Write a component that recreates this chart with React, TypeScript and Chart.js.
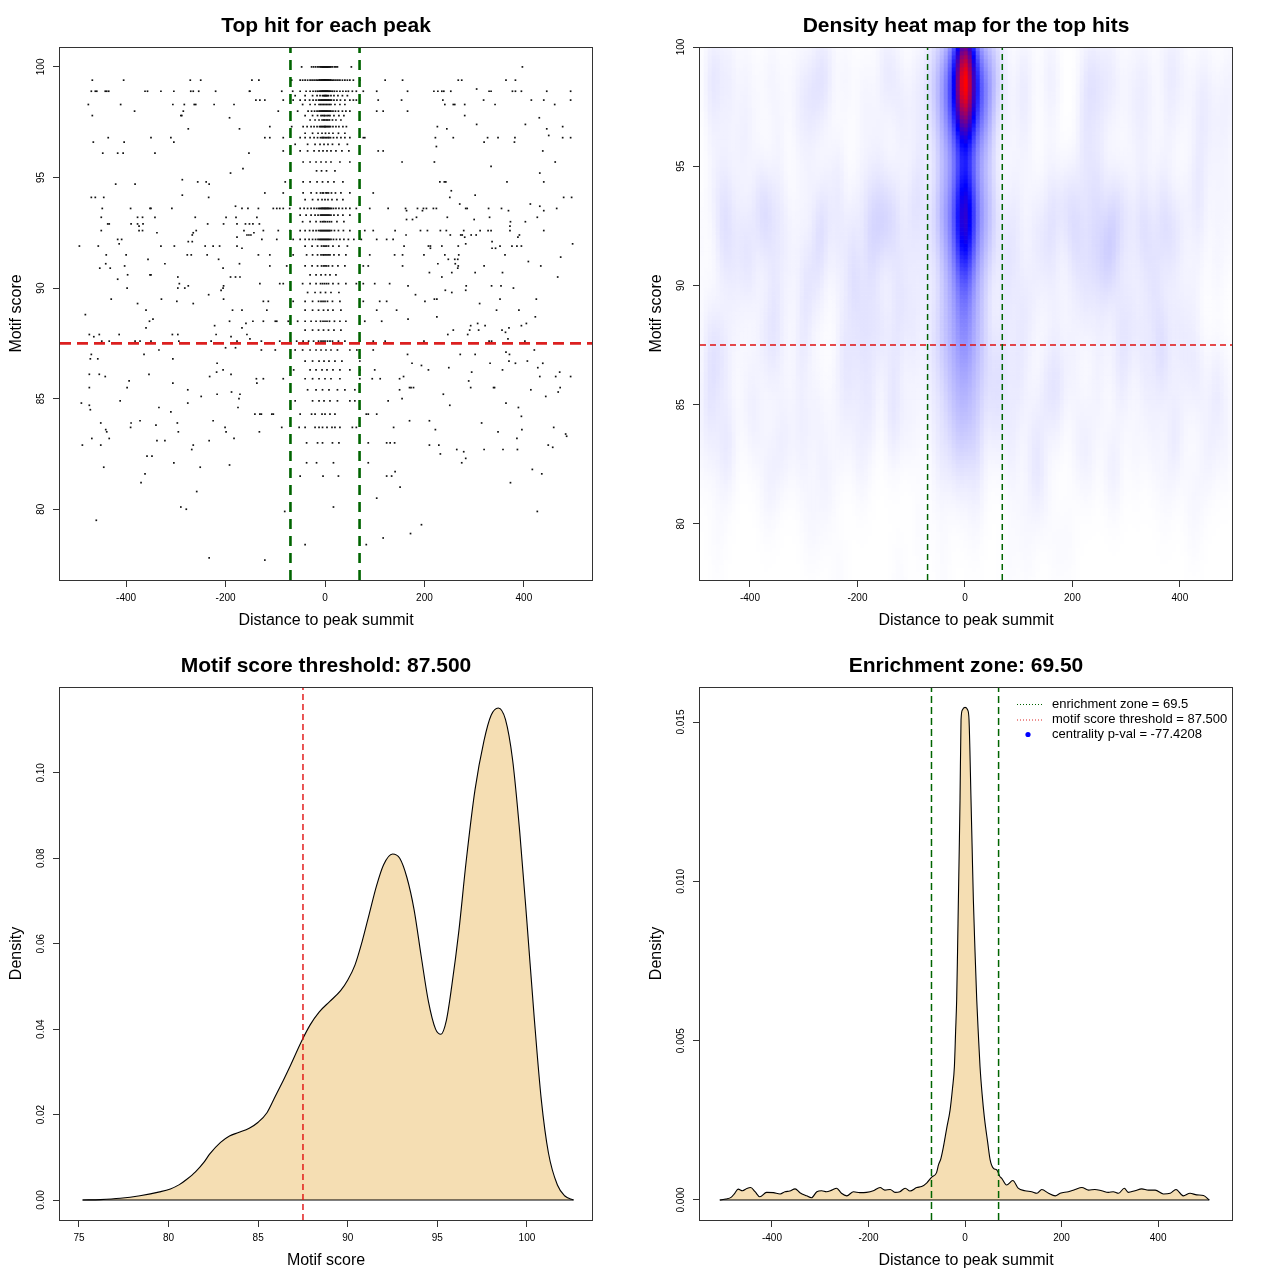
import React, { useEffect, useRef } from "react";
import { Chart, registerables } from "chart.js";

Chart.register(...registerables);

const FONT = '"Liberation Sans", Arial, Helvetica, sans-serif';
const WHEAT = "#F5DEB3";
const GREEN = "#006400";
const RED = "#DC2020";
const AXIS = "#333333";

// ---------------- data ----------------
const enrichmentZone = 69.5;
const scoreThreshold = 87.5;

const titles = [
  "Top hit for each peak",
  "Density heat map for the top hits",
  "Motif score threshold: 87.500",
  "Enrichment zone: 69.50",
];

const distanceTicks = [-400, -200, 0, 200, 400];
const scoreTicks = [80, 85, 90, 95, 100];
const motifScoreTicks = [75, 80, 85, 90, 95, 100];
const scoreDensityTicks = [0, 0.02, 0.04, 0.06, 0.08, 0.1];
const distDensityTicks = [0, 0.005, 0.01, 0.015];

const legendLabels = [
  "enrichment zone = 69.5",
  "motif score threshold = 87.500",
  "centrality p-val = -77.4208",
];

// Top hits: motif score rows and distances to peak summit for each row
const hitScores = [
  100.0, 99.4, 99.0, 98.9, 98.7, 98.5, 98.3, 98.0, 97.8, 97.7, 97.6, 97.4, 97.3, 97.2, 97.0, 96.9, 96.8, 96.6, 96.5, 96.4,
  96.2, 96.1, 95.7, 95.5, 95.4, 95.3, 95.2, 94.9, 94.8, 94.7, 94.4, 94.3, 94.2, 94.1, 94.0, 93.8, 93.7, 93.6, 93.5, 93.3,
  93.2, 93.1, 93.0, 92.9, 92.8, 92.6, 92.5, 92.4, 92.3, 92.2, 92.1, 92.0, 91.9, 91.8, 91.5, 91.4, 91.3, 91.2, 91.1, 91.0,
  90.9, 90.7, 90.6, 90.5, 90.4, 90.2, 90.1, 90.0, 89.9, 89.8, 89.7, 89.5, 89.4, 89.3, 89.0, 88.8, 88.7, 88.6, 88.5, 88.4,
  88.3, 88.2, 88.1, 88.0, 87.9, 87.8, 87.7, 87.6, 87.3, 87.2, 87.1, 87.0, 86.8, 86.7, 86.6, 86.5, 86.4, 86.3, 86.2, 86.1,
  86.0, 85.9, 85.8, 85.7, 85.5, 85.4, 85.3, 85.2, 85.1, 85.0, 84.9, 84.8, 84.7, 84.6, 84.5, 84.4, 84.3, 84.2, 84.0, 83.9,
  83.8, 83.7, 83.6, 83.5, 83.4, 83.3, 83.2, 83.1, 83.0, 82.9, 82.8, 82.7, 82.6, 82.5, 82.4, 82.3, 82.1, 82.0, 81.9, 81.8,
  81.7, 81.6, 81.5, 81.2, 81.0, 80.8, 80.5, 80.1, 80.0, 79.9, 79.5, 79.3, 78.9, 78.7, 78.4, 77.8, 77.7,
];

const hitDistances = [
  [-47, -27, -23, -19, -15, -12, -9, -8, -6, -5, -4, -3, -2, -1, 0, 1, 2, 3, 4, 5, 6, 7, 9, 10, 12, 15, 19, 22, 25, 53, 397],
  [-468, -405, -271, -250, -147, -133, -67, -50, -45, -40, -35, -30, -26, -22, -18, -15, -12, -11, -10, -8, -7, -6, -5, -4, -3, -2, -2, -1, 0, 0, 1, 1, 2, 3, 4, 5, 6, 7, 8, 10, 11, 12, 15, 18, 22, 26, 30, 35, 40, 45, 50, 57, 70, 121, 156, 268, 275, 364, 383],
  [305],
  [-470, -462, -459, -442, -439, -435, -362, -357, -330, -304, -270, -265, -254, -220, -152, -151, -87, -65, -50, -38, -30, -24, -19, -15, -12, -10, -9, -7, -6, -5, -4, -3, -2, -1, 0, 1, 2, 3, 4, 5, 6, 7, 9, 10, 12, 15, 19, 24, 30, 36, 42, 47, 55, 63, 77, 104, 166, 219, 227, 235, 239, 253, 330, 334, 377, 383, 395, 446, 494],
  [-60, -40, -25, -16, -10, -5, -3, -1, 0, 2, 3, 5, 7, 12, 18, 26, 35, 45],
  [-139, -131, -121, -84, -64, -50, -40, -31, -24, -18, -13, -11, -9, -7, -6, -4, -3, -1, 0, 1, 3, 4, 6, 7, 9, 11, 13, 18, 24, 31, 40, 50, 57, 63, 107, 154, 237, 319, 415, 440, 494],
  [-476, -411, -306, -283, -263, -260, -223, -183, -45, -30, -20, -12, -9, -6, -3, 0, 3, 6, 9, 12, 20, 30, 40, 241, 258, 261, 281, 342, 462],
  [-383, -285, -94, -55, -34, -27, -21, -16, -12, -10, -8, -6, -5, -3, -2, 0, 1, 3, 4, 6, 8, 10, 12, 16, 21, 27, 35, 42, 50, 104, 117, 166],
  [-468, -290, -288, -40, -25, -15, -8, -5, -2, 0, 4, 7, 10, 18, 28, 38, 281],
  [-192, 431],
  [-30, -20, -12, -6, -3, -1, 2, 4, 6, 9, 15, 22, 32],
  [305, 403],
  [-111, -67, -44, -36, -28, -22, -16, -11, -9, -7, -5, -3, -1, 0, 1, 3, 5, 7, 9, 11, 16, 22, 28, 36, 43, 226, 478],
  [-275, -172, 245, 446],
  [-40, -25, -14, -6, 1, 8, 16, 27, 40],
  [450],
  [-436, -350, -310, -121, -111, -84, -50, -40, -30, -22, -15, -9, -6, -4, -2, 1, 3, 6, 8, 11, 17, 24, 32, 40, 50, 77, 80, 222, 258, 327, 348, 382, 478, 494],
  [-466, -404, -304, 320, 381],
  [-60, -35, -20, -10, -2, 6, 15, 28, 45],
  [224],
  [-84, -50, -35, -22, -12, -4, 4, 12, 22, 34, 48, 107, 117, 438],
  [-447, -417, -406, -342, -153],
  [-44, -30, -18, -8, 2, 12, 30, 50, 155, 220, 463],
  [334],
  [-165],
  [-17, -7, 3, 20],
  [-190, 432],
  [-287],
  [-256, -239, -80, -44, -30, -16, -5, 6, 18, 36, 231, 240, 243, 366, 440],
  [-421, -382, -233],
  [254],
  [-121, -84, -44, -28, -17, -9, -5, -3, 2, 4, 7, 13, 21, 32, 50, 97],
  [-287, 302],
  [-470, -462, -445, -234, 251, 480, 496],
  [-40, -25, -14, -6, 0, 6, 14, 24, 36],
  [271, 413],
  [-180, 432],
  [-448, -391, -352, -350, -308, -167, -155, -134, -104, -97, -91, -84, -71, -50, -42, -35, -28, -22, -17, -13, -11, -9, -7, -6, -4, -3, -1, 0, 1, 3, 4, 6, 7, 9, 11, 13, 17, 22, 28, 35, 42, 50, 63, 90, 127, 162, 186, 198, 204, 218, 224, 283, 286, 329, 355, 466],
  [164, 196, 369, 440],
  [-50, -38, -28, -20, -14, -9, -7, -5, -3, -1, 1, 3, 5, 7, 9, 12, 18, 26, 36, 50],
  [-450, -377, -367, -342, -261, -199, -179, -137, 184, 246, 331, 427],
  [164, 176, 300],
  [-45, -30, -18, -9, -5, -2, 1, 5, 9, 13, 24, 38, 373, 403],
  [-437, -434, -390, -377, -366, -236, -204, -177, -160, -152, -145, -132],
  [-374, 372],
  [-450, -374, -367, -259, -163, -124, -94, -70, -50, -40, -31, -24, -18, -13, -10, -8, -6, -4, -2, 0, 2, 4, 6, 8, 10, 13, 19, 27, 37, 50, 80, 97, 141, 192, 206, 232, 244, 279, 312, 328, 334, 372, 440],
  [-338, -265, -143],
  [-267, -157, -153, -149, 163, 252, 273, 276, 294, 304, 391],
  [-177, 281, 388],
  [-417, -409, -127, -97, -64, -50, -40, -32, -25, -19, -14, -11, -9, -7, -5, -3, -1, 1, 3, 5, 7, 9, 12, 17, 23, 30, 38, 47, 58, 73, 104, 124, 137],
  [-275, -267, 336],
  [-414, 283, 498],
  [-494, -456, -330, -303, -241, -225, -212, -177, -40, -26, -15, -7, -3, 0, 3, 7, 16, 28, 45, 159, 208, 212, 235, 268, 352, 376, 386, 395],
  [-167, 212, 336, 343],
  [-440, -400, -277, -269, -237, -134, -111, -64, -37, -25, -15, -8, -4, -2, 1, 4, 7, 10, 18, 28, 42, 90, 140, 156, 199, 241, 269, 362],
  [474],
  [-356, -214, 248, 261, 267],
  [409],
  [-441, -322, -172, 227, 262],
  [-403, -111, -77, -40, -26, -15, -7, -3, 0, 3, 7, 15, 26, 40, 77, 87, 156, 268, 320, 434],
  [-453, -432, -205, 267],
  [210, 255, 302, 357],
  [-397, -352, -350, -30, -18, -8, 1, 10, 22],
  [-296, -190, -180, -171, 235, 468],
  [-417],
  [-293, -131, -91, -84, -45, -30, -18, -9, -5, -1, 3, 7, 16, 27, 42, 63, 77, 100, 130],
  [-275, -204, 167, 284, 335, 354],
  [-398, -296, -282, -205, 379],
  [-209, 242, 283],
  [-35, -20, -9, 1, 12, 28, 255],
  [-234, 182],
  [-430, -329, -204, 220, 225, 352, 425],
  [-298, -124, -114, -64, -40, -25, -13, -8, -4, 0, 5, 15, 30, 77, 110, 124, 201],
  [-377, -265, 311],
  [-360, -186, -167, -117, -40, -25, -13, -3, 6, 16, 32, 104, 144, 345, 390],
  [-482],
  [225, 423],
  [-346, 167],
  [-353, -192, -145, -124, -100, -97, -74, -55, -40, -28, -18, -9, -4, 0, 4, 9, 19, 30, 42, 80, 114],
  [-159, 307, 405],
  [-222, 293, 322, 395],
  [-360, -167, 370],
  [-40, -25, -13, -3, 7, 18, 32, 258, 291, 309, 356],
  [363],
  [-474, -454, -414, -307, -296, -219, -157, 247, 287],
  [-465, -189],
  [-151, 368],
  [-449, -434, -382, -372, -350, -294, -229, -177, -128, -91, -57, -44, -33, -23, -13, -8, -4, 0, 5, 10, 15, 27, 40, 70, 97, 121, 199, 330, 335, 402],
  [-200, -180],
  [-334, -128, -100, -60, -45, -30, -18, -8, 2, 12, 25, 50, 64, 97, 421],
  [364],
  [-470, -364, 166, 272, 302, 371],
  [-472, -457, -306],
  [-40, -25, -12, -2, 8, 20, 34, 70, 370, 407],
  [-217, 175, 332, 383, 438],
  [194],
  [249, 428],
  [-205, -63, -30, -18, -6, 4, 16, 30, 50, 70, 100, 208, 357],
  [-218, 295, 472],
  [-474, -454, -354, -189],
  [-442, -232, 158, 432, 464, 494],
  [-138, -124, -84, -40, -25, -12, 0, 12, 30, 70, 95, 111, 150],
  [-394, 289],
  [-306, -137],
  [-474, -398, 170, 173, 178, 293, 339, 341, 473],
  [-276, -35, -18, -5, 8, 25, 40, 60, 150, 414],
  [-188, 469],
  [-217, -171, 238],
  [-249, 444],
  [-173, 155],
  [-412, -60, -25, -12, -2, 10, 25, 50, 60, 127],
  [-490, -276, 364],
  [-474, 251],
  [-334, -175, 389],
  [-472],
  [-310],
  [-141, -131, -128, -107, -104, -50, -27, -20, -6, 0, 10, 20, 83, 87, 104],
  [395],
  [-372, -225, 170, 210],
  [-451, -390, -297, 315],
  [-340],
  [-391, -201, -87, -52, -40, -20, -12, -5, 4, 14, 20, 30, 55, 63, 138, 460],
  [-441, 222, 396],
  [-439, -295, -199, -132, 348],
  [484],
  [486],
  [-469, -434, -183, 386],
  [-338, -322, -233],
  [-37, -15, -5, 15, 28, 87, 124, 131, 140],
  [-488, -451, -265, 210, 229, 449],
  [458],
  [-268, 265, 320, 358, 387],
  [279],
  [232],
  [-358, -348],
  [283],
  [-304, -37, -17, 17, 87, 275],
  [-192],
  [-445, -251],
  [417],
  [141],
  [-362, 436],
  [-50, -4, 27, 124, 134],
  [-370, 373],
  [151],
  [-258],
  [104],
  [-290, 17],
  [-279],
  [-81, 427],
  [-460],
  [194],
  [172],
  [117],
  [-40, 83],
  [-233],
  [-121],
];

// Density of motif scores (panel 3)
const scoreCurveX = [
  75.2, 76.2, 77.3, 78.4, 79.5, 80.1, 80.6, 81.0, 81.5, 82.0, 82.3, 82.9, 83.4, 83.9, 84.5, 85.0, 85.5, 85.9, 86.4, 86.8,
  87.4, 87.9, 88.4, 89.0, 89.6, 90.0, 90.4, 90.8, 91.2, 91.6, 92.0, 92.5, 92.9, 93.3, 93.7, 94.1, 94.5, 94.9, 95.2, 95.5,
  95.8, 96.2, 96.6, 97.1, 97.6, 98.0, 98.4, 98.8, 99.2, 99.6, 100.0, 100.4, 100.8, 101.2, 101.7, 102.1, 102.6,
];
const scoreCurveDensity = [
  0, 0.0001, 0.0004, 0.001, 0.0019, 0.0026, 0.0036, 0.0048, 0.0066, 0.009, 0.0108, 0.0135, 0.015, 0.0158, 0.0168, 0.0182,
  0.0205, 0.0238, 0.028, 0.0315, 0.037, 0.041, 0.044, 0.0465, 0.049, 0.0515, 0.055, 0.0605, 0.067, 0.0735, 0.0785, 0.081,
  0.08, 0.0755, 0.068, 0.057, 0.0465, 0.04, 0.0388, 0.042, 0.05, 0.063, 0.079, 0.096, 0.1075, 0.1135, 0.1152, 0.1125,
  0.103, 0.086, 0.065, 0.043, 0.0235, 0.011, 0.0035, 0.001, 0,
];

// Density of distances to peak summit (panel 4)
const distCurveX = [
  -508, -495, -484, -477, -470, -461, -452, -444, -435, -425, -411, -397, -383, -373, -363, -352, -342, -328, -318, -307,
  -297, -287, -276, -266, -256, -245, -231, -218, -204, -190, -176, -166, -155, -145, -135, -124, -114, -100, -90, -79,
  -69, -59, -55, -50, -45, -38, -31, -26, -22, -19.5, -17.3, -15.5, -13.8, -12, -10.4, -8.3, -5.5, 0, 5.5, 8.3, 12.4,
  14.8, 17.3, 20.7, 24.2, 27.6, 31, 35.5, 40, 47, 52, 59, 66, 72.5, 76, 86, 99, 110, 124, 138, 149, 159, 173, 187, 197,
  214, 228, 242, 256, 269, 283, 297, 307, 318, 330, 338, 352, 366, 380, 394, 411, 425, 437, 452, 466, 480, 494, 506,
];
const distCurveDensity = [
  0, 0.00003, 0.00009, 0.00021, 0.00034, 0.00029, 0.00036, 0.00039, 0.00026, 0.0001, 0.00024, 0.00023, 0.00019, 0.00026,
  0.00028, 0.00035, 0.00023, 0.00013, 0.00007, 0.00026, 0.00029, 0.00026, 0.00031, 0.00037, 0.00021, 0.00013, 0.00026,
  0.00023, 0.00024, 0.00029, 0.00039, 0.00031, 0.00033, 0.00024, 0.00026, 0.00037, 0.00028, 0.00039, 0.00042, 0.00054,
  0.00072, 0.00086, 0.0011, 0.0013, 0.00165, 0.00225, 0.00282, 0.0035, 0.0042, 0.0053, 0.0063, 0.0078, 0.0094, 0.011,
  0.01255, 0.01506, 0.01538, 0.01546, 0.01538, 0.01506, 0.01255, 0.011, 0.0094, 0.0078, 0.0063, 0.0052, 0.0042, 0.0033,
  0.0026, 0.0018, 0.00126, 0.00099, 0.00094, 0.00073, 0.00068, 0.00047, 0.00061, 0.00037, 0.00029, 0.00026, 0.00021,
  0.00033, 0.00021, 0.00013, 0.00021, 0.00026, 0.00033, 0.00039, 0.00031, 0.00033, 0.00029, 0.00024, 0.00026, 0.00021,
  0.00037, 0.00024, 0.00029, 0.00035, 0.00031, 0.00031, 0.00019, 0.00021, 0.00033, 0.00013, 0.00021, 0.00016, 0.00014, 0,
];

// axis ranges
const X1 = [-533, 537];
const Y1 = [76.8, 100.9];
const X2 = [-493, 497];
const Y2 = [77.65, 100];
const X3 = [73.94, 103.63];
const Y3 = [-0.00468, 0.1201];
const X4 = [-549, 553];
const Y4 = [-0.000628, 0.0161];

// ---------------- helpers ----------------
const hitPoints = hitScores.flatMap((y, i) => (hitDistances[i] || []).map((x) => ({ x, y })));

function measureWidest(labels: string[]): number {
  const ctx = document.createElement("canvas").getContext("2d")!;
  ctx.font = `10px ${FONT}`;
  return Math.max(...labels.map((l) => ctx.measureText(l).width));
}

function axis(
  kind: "x" | "y",
  range: number[],
  ticks: number[],
  fmt: (v: number) => string,
  title: string
): any {
  const base: any = {
    type: "linear",
    min: range[0],
    max: range[1],
    afterBuildTicks: (s: any) => {
      s.ticks = ticks.map((v) => ({ value: v }));
    },
    grid: { display: true, drawOnChartArea: false, drawTicks: true, tickLength: 7, tickColor: AXIS, tickWidth: 1 },
    border: { display: false },
    title: { display: true, text: title, color: "#000", font: { family: FONT, size: 16 } },
  };
  if (kind === "x") {
    base.afterFit = (s: any) => {
      s.height = 60;
    };
    base.ticks = {
      font: { family: FONT, size: 10 },
      color: "#000",
      padding: 5.5,
      minRotation: 0,
      maxRotation: 0,
      autoSkip: false,
      callback: (v: number) => fmt(v),
    };
    base.title.padding = { top: 0, bottom: 10 };
  } else {
    const widest = measureWidest(ticks.map(fmt));
    base.afterFit = (s: any) => {
      s.width = 60;
    };
    base.ticks = {
      font: { family: FONT, size: 10 },
      color: "#000",
      padding: 60 - 7 - widest / 2 - 41.5,
      minRotation: 90,
      maxRotation: 90,
      crossAlign: "center",
      autoSkip: false,
      callback: (v: number) => fmt(v),
    };
    base.title.padding = { top: 7, bottom: 0 };
  }
  return base;
}

const boxPlugin = {
  id: "plotBox",
  afterDraw(chart: any) {
    const { ctx, chartArea: a } = chart;
    ctx.save();
    ctx.strokeStyle = AXIS;
    ctx.lineWidth = 1;
    ctx.setLineDash([]);
    ctx.strokeRect(Math.round(a.left) - 0.5, Math.round(a.top) + 0.5, Math.round(a.right - a.left) + 1, Math.round(a.bottom - a.top));
    ctx.restore();
  },
};

const zoneLegendPlugin = {
  id: "zoneLegend",
  afterDraw(chart: any) {
    const { ctx, chartArea: a } = chart;
    const rows = [17, 32.5, 47.5];
    const colors = [GREEN, RED, "#0000FF"];
    ctx.save();
    ctx.font = `13px ${FONT}`;
    ctx.fillStyle = "#000";
    ctx.textBaseline = "middle";
    ctx.textAlign = "left";
    legendLabels.forEach((label, i) => {
      const y = a.top + rows[i];
      if (i < 2) {
        ctx.strokeStyle = colors[i];
        ctx.lineWidth = 1;
        ctx.setLineDash([1, 2]);
        ctx.beginPath();
        ctx.moveTo(a.right - 215, y + 0.5);
        ctx.lineTo(a.right - 190, y + 0.5);
        ctx.stroke();
      } else {
        ctx.setLineDash([]);
        ctx.fillStyle = colors[i];
        ctx.beginPath();
        ctx.arc(a.right - 204, y, 2.6, 0, Math.PI * 2);
        ctx.fill();
      }
      ctx.fillStyle = "#000";
      ctx.fillText(label, a.right - 180, y);
    });
    ctx.restore();
  },
};

function refLine(points: { x: number; y: number }[], color: string, width: number, dash: number[]) {
  return {
    type: "line",
    data: points,
    borderColor: color,
    borderWidth: width,
    borderDash: dash,
    pointRadius: 0,
    fill: false,
    tension: 0,
  };
}

function baseOptions(title: string, scales: any): any {
  return {
    animation: false,
    responsive: false,
    events: [],
    layout: { padding: { left: 0, right: 48, top: 0, bottom: 0 } },
    plugins: {
      legend: { display: false },
      tooltip: { enabled: false },
      title: {
        display: true,
        text: title,
        fullSize: false,
        color: "#000",
        font: { family: FONT, size: 21, weight: "bold" },
        padding: { top: 13.5, bottom: 8.3 },
      },
    },
    scales,
  };
}

function heatColor(t: number): string {
  if (t < 0.5) {
    const c = Math.round(255 * (1 - t * 2));
    return `rgb(${c},${c},255)`;
  }
  const s = (t - 0.5) * 2;
  return `rgb(${Math.round(255 * s)},0,${Math.round(255 * (1 - s))})`;
}

function buildHeat() {
  const nx = 133;
  const ny = 133;
  const dx = (X2[1] - X2[0]) / nx;
  const dy = (Y2[1] - Y2[0]) / ny;
  const sx = 11;
  const sy = 1.4;
  const grid = new Float64Array(nx * ny);
  for (const p of hitPoints) {
    const i0 = Math.max(0, Math.floor((p.x - 4 * sx - X2[0]) / dx));
    const i1 = Math.min(nx - 1, Math.ceil((p.x + 4 * sx - X2[0]) / dx));
    const j0 = Math.max(0, Math.floor((p.y - 4 * sy - Y2[0]) / dy));
    const j1 = Math.min(ny - 1, Math.ceil((p.y + 4 * sy - Y2[0]) / dy));
    const wy: number[] = [];
    for (let j = j0; j <= j1; j++) {
      const cy = Y2[0] + (j + 0.5) * dy;
      const u = (cy - p.y) / sy;
      wy.push(Math.exp(-0.5 * u * u));
    }
    for (let i = i0; i <= i1; i++) {
      const cx = X2[0] + (i + 0.5) * dx;
      const v = (cx - p.x) / sx;
      const wx = Math.exp(-0.5 * v * v);
      for (let j = j0; j <= j1; j++) grid[j * nx + i] += wx * wy[j - j0];
    }
  }
  let max = 0;
  for (let k = 0; k < grid.length; k++) if (grid[k] > max) max = grid[k];
  const points: { x: number; y: number }[] = [];
  const colors: string[] = [];
  for (let j = 0; j < ny; j++) {
    for (let i = 0; i < nx; i++) {
      points.push({ x: X2[0] + (i + 0.5) * dx, y: Y2[0] + (j + 0.5) * dy });
      colors.push(heatColor(grid[j * nx + i] / max));
    }
  }
  return { points, colors };
}

const intFmt = (v: number) => String(Math.round(v));

// ---------------- chart configs ----------------
function scatterConfig(): any {
  return {
    type: "scatter",
    data: {
      datasets: [
        refLine([{ x: -enrichmentZone, y: Y1[0] }, { x: -enrichmentZone, y: Y1[1] }], GREEN, 2.6, [10, 7]),
        refLine([{ x: enrichmentZone, y: Y1[0] }, { x: enrichmentZone, y: Y1[1] }], GREEN, 2.6, [10, 7]),
        refLine([{ x: X1[0], y: scoreThreshold }, { x: X1[1], y: scoreThreshold }], RED, 2.6, [11, 6]),
        {
          type: "scatter",
          data: hitPoints,
          pointStyle: "rect",
          pointRadius: 1.2,
          backgroundColor: "#111",
          borderWidth: 0,
          pointBorderWidth: 0,
        },
      ],
    },
    options: baseOptions(titles[0], {
      x: axis("x", X1, distanceTicks, intFmt, "Distance to peak summit"),
      y: axis("y", Y1, scoreTicks, intFmt, "Motif score"),
    }),
    plugins: [boxPlugin],
  };
}

function heatConfig(): any {
  const heat = buildHeat();
  return {
    type: "scatter",
    data: {
      datasets: [
        refLine([{ x: -enrichmentZone, y: Y2[0] }, { x: -enrichmentZone, y: Y2[1] }], GREEN, 1.5, [6, 4]),
        refLine([{ x: enrichmentZone, y: Y2[0] }, { x: enrichmentZone, y: Y2[1] }], GREEN, 1.5, [6, 4]),
        refLine([{ x: X2[0], y: scoreThreshold }, { x: X2[1], y: scoreThreshold }], "#E01010", 1.5, [6, 4]),
        {
          type: "scatter",
          data: heat.points,
          parsing: false,
          normalized: true,
          pointStyle: "rect",
          pointRadius: 3.25,
          backgroundColor: heat.colors,
          pointBackgroundColor: heat.colors,
          borderWidth: 0,
          pointBorderWidth: 0,
          clip: 0,
        },
      ],
    },
    options: baseOptions(titles[1], {
      x: axis("x", X2, distanceTicks, intFmt, "Distance to peak summit"),
      y: axis("y", Y2, scoreTicks, intFmt, "Motif score"),
    }),
    plugins: [boxPlugin],
  };
}

function scoreDensityConfig(): any {
  const curve = scoreCurveX.map((x, i) => ({ x, y: scoreCurveDensity[i] }));
  const first = scoreCurveX[0];
  const last = scoreCurveX[scoreCurveX.length - 1];
  return {
    type: "scatter",
    data: {
      datasets: [
        refLine([{ x: scoreThreshold, y: Y3[0] }, { x: scoreThreshold, y: Y3[1] }], "#E01010", 1.4, [6, 4]),
        refLine([{ x: first, y: 0 }, { x: last, y: 0 }], "#000", 1, []),
        {
          type: "line",
          data: curve,
          borderColor: "#000",
          borderWidth: 1.1,
          backgroundColor: WHEAT,
          fill: "origin",
          pointRadius: 0,
          cubicInterpolationMode: "monotone",
        },
      ],
    },
    options: baseOptions(titles[2], {
      x: axis("x", X3, motifScoreTicks, intFmt, "Motif score"),
      y: axis("y", Y3, scoreDensityTicks, (v) => v.toFixed(2), "Density"),
    }),
    plugins: [boxPlugin],
  };
}

function distDensityConfig(): any {
  const curve = distCurveX.map((x, i) => ({ x, y: distCurveDensity[i] }));
  const first = distCurveX[0];
  const last = distCurveX[distCurveX.length - 1];
  return {
    type: "scatter",
    data: {
      datasets: [
        refLine([{ x: -enrichmentZone, y: Y4[0] }, { x: -enrichmentZone, y: Y4[1] }], GREEN, 1.5, [7, 4]),
        refLine([{ x: enrichmentZone, y: Y4[0] }, { x: enrichmentZone, y: Y4[1] }], GREEN, 1.5, [7, 4]),
        refLine([{ x: first, y: 0 }, { x: last, y: 0 }], "#000", 1, []),
        {
          type: "line",
          data: curve,
          borderColor: "#000",
          borderWidth: 1.1,
          backgroundColor: WHEAT,
          fill: "origin",
          pointRadius: 0,
          cubicInterpolationMode: "monotone",
        },
      ],
    },
    options: baseOptions(titles[3], {
      x: axis("x", X4, distanceTicks, intFmt, "Distance to peak summit"),
      y: axis("y", Y4, distDensityTicks, (v) => v.toFixed(3), "Density"),
    }),
    plugins: [boxPlugin, zoneLegendPlugin],
  };
}

function Panel({ build }: { build: () => any }) {
  const ref = useRef<HTMLCanvasElement>(null);
  useEffect(() => {
    if (!ref.current) return;
    const chart = new Chart(ref.current, build());
    return () => chart.destroy();
  }, [build]);
  return <canvas ref={ref} width={640} height={640} style={{ display: "block", width: 640, height: 640 }} />;
}

export default function App() {
  return (
    <div
      style={{
        position: "absolute",
        left: 0,
        top: 0,
        width: 1280,
        height: 1280,
        background: "#fff",
        display: "grid",
        gridTemplateColumns: "640px 640px",
        gridTemplateRows: "640px 640px",
      }}
    >
      <Panel build={scatterConfig} />
      <Panel build={heatConfig} />
      <Panel build={scoreDensityConfig} />
      <Panel build={distDensityConfig} />
    </div>
  );
}
